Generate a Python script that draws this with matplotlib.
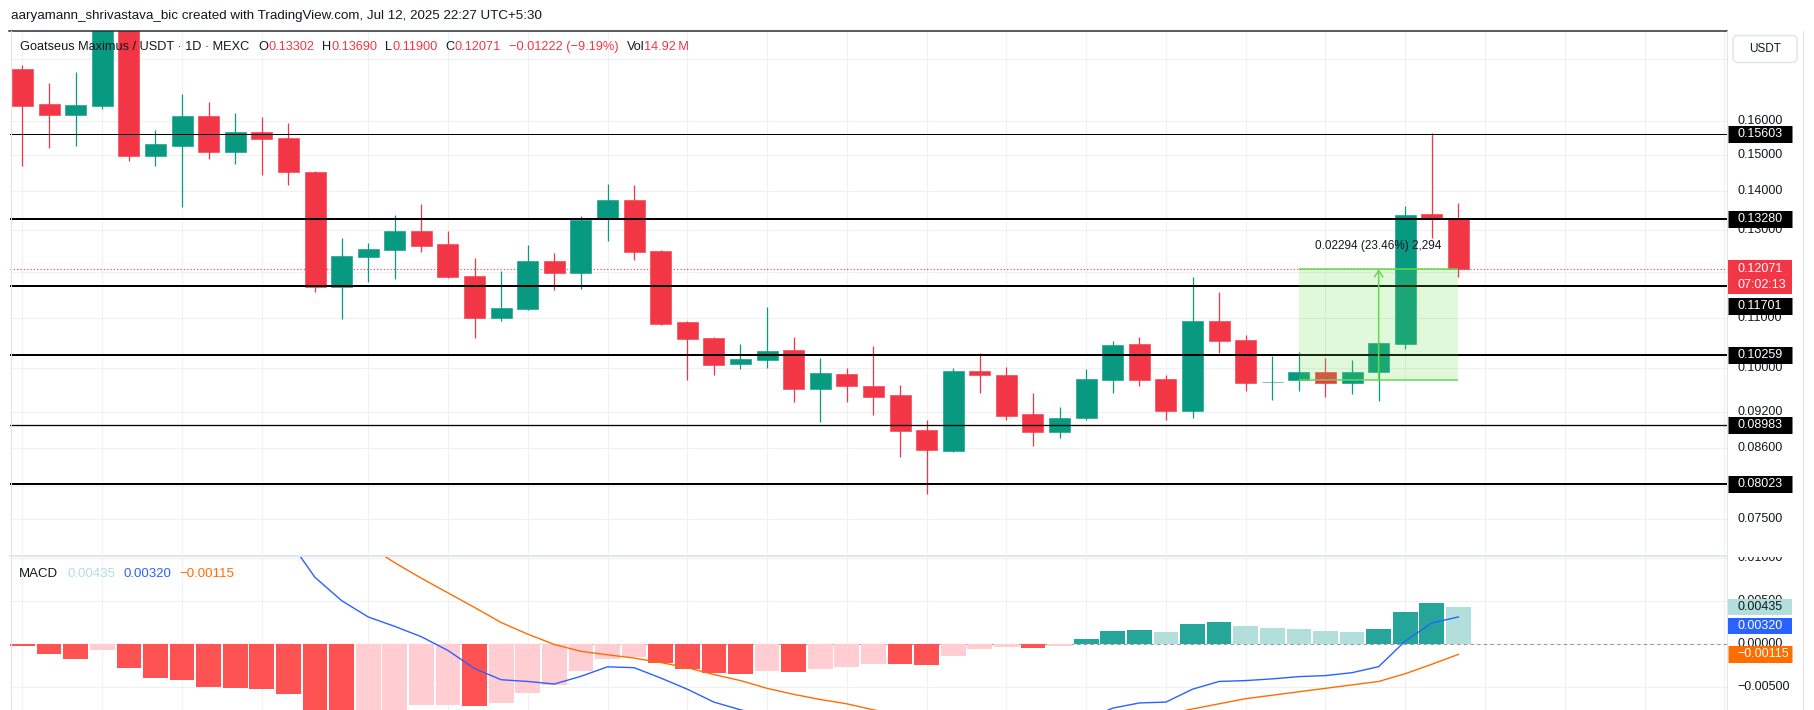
import numpy as np
import matplotlib
matplotlib.use('Agg')
import matplotlib.pyplot as plt
import matplotlib.transforms as mtransforms
from matplotlib.patches import Rectangle, FancyBboxPatch
from matplotlib.lines import Line2D
from matplotlib.ticker import NullLocator

plt.rcParams['font.family'] = ['Liberation Sans', 'DejaVu Sans']

# daily candles GOAT/USDT (MEXC)
opens = [0.1767, 0.1653, 0.1620, 0.1648, 0.2010, 0.1498, 0.1527, 0.1616, 0.1509, 0.1567,
         0.1549, 0.1452, 0.1166, 0.1236, 0.1253, 0.1298, 0.1267, 0.1192, 0.1101, 0.1120,
         0.1226, 0.1199, 0.1331, 0.1377, 0.1250, 0.1092, 0.1059, 0.1009, 0.1016, 0.1035,
         0.0962, 0.0989, 0.0967, 0.0950, 0.0890, 0.0855, 0.0995, 0.0987, 0.0917, 0.0885,
         0.0910, 0.0978, 0.1047, 0.0980, 0.0922, 0.1094, 0.1055, 0.0974, 0.0977, 0.0993,
         0.0973, 0.0992, 0.1048, 0.1341, 0.13302]
highs = [0.1780, 0.1721, 0.1757, 0.2080, 0.2050, 0.1573, 0.1686, 0.1659, 0.1625, 0.1612,
         0.1594, 0.1455, 0.1281, 0.1269, 0.1338, 0.1367, 0.1298, 0.1233, 0.1204, 0.1264,
         0.1244, 0.1335, 0.1420, 0.1417, 0.1252, 0.1093, 0.1061, 0.1048, 0.1124, 0.1062,
         0.1020, 0.1000, 0.1044, 0.0969, 0.0907, 0.1000, 0.1029, 0.1002, 0.0954, 0.0929,
         0.0999, 0.1054, 0.1062, 0.0987, 0.1190, 0.1157, 0.1066, 0.1024, 0.1031, 0.1020,
         0.1016, 0.1052, 0.1362, 0.1563, 0.13690]
lows = [0.1470, 0.1521, 0.1527, 0.1638, 0.1484, 0.1470, 0.1360, 0.1490, 0.1475, 0.1445,
        0.1418, 0.1157, 0.1099, 0.1179, 0.1184, 0.1248, 0.1187, 0.1060, 0.1095, 0.1117,
        0.1161, 0.1163, 0.1274, 0.1229, 0.1086, 0.0978, 0.0988, 0.0999, 0.1001, 0.0937,
        0.0903, 0.0937, 0.0915, 0.0845, 0.0788, 0.0852, 0.0954, 0.0907, 0.0863, 0.0876,
        0.0907, 0.0954, 0.0966, 0.0907, 0.0910, 0.1030, 0.0958, 0.0942, 0.0958, 0.0947,
        0.0953, 0.0940, 0.1038, 0.1282, 0.11900]
closes = [0.1648, 0.1620, 0.1650, 0.2010, 0.1498, 0.1532, 0.1616, 0.1509, 0.1567, 0.1547,
          0.1453, 0.1166, 0.1238, 0.1255, 0.1298, 0.1262, 0.1190, 0.1101, 0.1122, 0.1226,
          0.1199, 0.1326, 0.1377, 0.1248, 0.1088, 0.1058, 0.1007, 0.1018, 0.1033, 0.0962,
          0.0991, 0.0967, 0.0947, 0.0888, 0.0856, 0.0995, 0.0988, 0.0914, 0.0886, 0.0910,
          0.0980, 0.1045, 0.0978, 0.0922, 0.1094, 0.1054, 0.0973, 0.0975, 0.0993, 0.0973,
          0.0993, 0.1049, 0.1338, 0.13293, 0.12071]
volume_last = '14.92\u2009M'

# MACD (12, 26, 9)
hist = [-0.00021, -0.00107, -0.00165, -0.00060, -0.00270, -0.00386, -0.00410, -0.00490, -0.00502, -0.00514,
        -0.00572, -0.00820, -0.00880, -0.00840, -0.00790, -0.00707, -0.00703, -0.00710, -0.00677, -0.00560,
        -0.00467, -0.00305, -0.00165, -0.00142, -0.00220, -0.00280, -0.00328, -0.00340, -0.00310, -0.00320,
        -0.00285, -0.00258, -0.00223, -0.00230, -0.00236, -0.00130, -0.00049, -0.00035, -0.00040, -0.00014,
        0.00064, 0.00157, 0.00169, 0.00145, 0.00238, 0.00262, 0.00215, 0.00192, 0.00180, 0.00157,
        0.00145, 0.00180, 0.00378, 0.00483, 0.00435]
macd = [0.0252, 0.0243, 0.0234, 0.0241, 0.0219, 0.0200, 0.0188, 0.0170, 0.0156, 0.0142,
        0.0122, 0.0078, 0.0051, 0.0032, 0.0021, 0.0009, -0.0007, -0.0028, -0.0041, -0.0043,
        -0.0046, -0.0037, -0.0026, -0.0027, -0.0039, -0.0052, -0.0067, -0.0076, -0.0082, -0.0090,
        -0.0093, -0.0095, -0.0098, -0.0105, -0.0111, -0.0104, -0.0097, -0.0097, -0.0098, -0.0096,
        -0.0087, -0.0074, -0.0068, -0.0067, -0.0052, -0.0043, -0.0042, -0.0040, -0.00374, -0.00362,
        -0.00328, -0.00258, 0.0004, 0.0025, 0.00320]
signal = [0.0254, 0.0254, 0.0251, 0.0247, 0.0246, 0.0239, 0.0229, 0.0219, 0.0206, 0.0193,
          0.0179, 0.0158, 0.0136, 0.0115, 0.0095, 0.0077, 0.0060, 0.0043, 0.00255, 0.0012,
          0.0000, -0.0008, -0.0012, -0.00158, -0.0021, -0.0027, -0.0035, -0.0042, -0.0051, -0.0058,
          -0.0064, -0.0069, -0.0076, -0.0082, -0.0088, -0.0091, -0.0092, -0.0093, -0.0094, -0.00945,
          -0.0093, -0.0089, -0.0085, -0.0081, -0.0075, -0.0069, -0.0063, -0.0059, -0.0055, -0.0051,
          -0.0047, -0.0043, -0.0034, -0.0023, -0.00115]

# horizontal support / resistance lines drawn on the chart
levels = [0.15603, 0.13280, 0.11701, 0.10259, 0.08983, 0.08023]
level_px = [1.0, 2.0, 2.0, 2.0, 1.3, 2.0]

price_ticks = [0.18, 0.16, 0.15, 0.14, 0.13, 0.12, 0.11, 0.10, 0.092, 0.086, 0.080, 0.075]
macd_ticks = [0.01, 0.005, 0.0, -0.005]
date_grid = [0, 3, 6, 9, 13, 16, 19, 22, 25, 28, 31, 34, 37, 40, 43, 46, 49, 52, 55, 58, 61, 64]

# price range tool
range_from, range_to = 48, 54
range_low, range_high = 0.09777, 0.12071
countdown = '07:02:13'

header = 'aaryamann_shrivastava_bic created with TradingView.com, Jul 12, 2025 22:27 UTC+5:30'
symbol = 'Goatseus Maximus / USDT \u00b7 1D \u00b7 MEXC'

UP, DOWN, TEXT = '#089981', '#F23645', '#131722'
GRID, BORDER = '#eef0f3', '#e0e3eb'
BLUE, ORANGE = '#2962FF', '#FF6D00'
RANGE_C = '#66d94f'

W, H, DPI = 1814, 710, 100
fig = plt.figure(figsize=(W / DPI, H / DPI), dpi=DPI)
px = mtransforms.IdentityTransform()


def rect(l, t, r, b):
    return [l / W, 1 - b / H, (r - l) / W, (b - t) / H]


def fmt(v):
    return f'{v:.5f}'.replace('-', '\u2212')


ax = fig.add_axes(rect(10, 31, 1726.5, 554))
axm = fig.add_axes(rect(10, 557, 1726.5, 710))
aps = fig.add_axes(rect(1728, 31, 1814, 554))
ams = fig.add_axes(rect(1728, 557, 1814, 710))

x = np.arange(len(closes))
o, h, l, c = (np.array(v) for v in (opens, highs, lows, closes))
cols = [UP if cc >= oo else DOWN for oo, cc in zip(o, c)]
xlim = (-0.47, 64.08)

# ---- price pane
ax.set_yscale('log')
ax.set_xlim(*xlim)
ax.set_ylim(0.070236, 0.18991)
ax.vlines(x, l, h, colors=cols, lw=0.9, zorder=3)
ax.bar(x, np.abs(c - o), bottom=np.minimum(o, c), width=0.79, color=cols,
       edgecolor=cols, lw=0.4, zorder=3)
for p, w in zip(levels, level_px):
    ax.axhline(p, color='black', lw=w * 72 / DPI, zorder=4)
ax.axhline(c[-1], color=DOWN, lw=0.8, ls=(0, (1, 2)), zorder=1)

ax.add_patch(Rectangle((range_from, range_low), range_to - range_from, range_high - range_low,
                       facecolor='#64e146', alpha=0.2, lw=0, zorder=5))
ax.hlines([range_low, range_high], range_from, range_to, color=RANGE_C, lw=1.1, zorder=5)
mid = (range_from + range_to) / 2
ax.annotate('', xy=(mid, range_high), xytext=(mid, range_low), zorder=5,
            arrowprops=dict(arrowstyle='->,head_length=0.45,head_width=0.3', color=RANGE_C,
                            lw=1.1, shrinkA=0, shrinkB=0))
d = range_high - range_low
ax.annotate(f'{d:.5f} ({d / range_low * 100:.2f}%) {round(d / 1e-5):,}', xy=(mid, range_high),
            xytext=(0, 17), textcoords='offset points', ha='center', va='center',
            fontsize=8.5, color=TEXT, zorder=6)

ax.set_yticks(price_ticks)
ax.yaxis.set_minor_locator(NullLocator())
ax.set_xticks(date_grid)
ax.grid(True, color=GRID, lw=0.8)
ax.set_axisbelow(True)
ax.tick_params(length=0, labelleft=False, labelbottom=False)
for s in ax.spines.values():
    s.set_visible(False)

# ---- MACD pane
hcols = []
prev = 0.0
for v in hist:
    if v >= 0:
        hcols.append('#26A69A' if v >= prev else '#B2DFDB')
    else:
        hcols.append('#FFCDD2' if v > prev else '#FF5252')
    prev = v
axm.set_xlim(*xlim)
axm.set_ylim(-0.00762, 0.01017)
axm.axhline(0, color='#9598a1', lw=0.8, ls=(0, (3, 3)), zorder=1.5)
axm.bar(x, hist, width=0.93, color=hcols, zorder=2)
axm.plot(x, macd, color=BLUE, lw=1.0, zorder=3)
axm.plot(x, signal, color=ORANGE, lw=1.0, zorder=3)
axm.set_yticks(macd_ticks)
axm.set_xticks(date_grid)
axm.grid(True, color=GRID, lw=0.8)
axm.set_axisbelow(True)
axm.tick_params(length=0, labelleft=False, labelbottom=False)
for s in axm.spines.values():
    s.set_visible(False)

# ---- right price scales
aps.set_yscale('log')
aps.set_ylim(ax.get_ylim())
aps.set_xlim(0, 86)
aps.axis('off')
ams.set_ylim(axm.get_ylim())
ams.set_xlim(0, 86)
ams.axis('off')

for t in price_ticks:
    aps.text(9.5, t, fmt(t), va='center', fontsize=9, color=TEXT, clip_on=True)
for t in macd_ticks:
    ams.text(9.5, t, fmt(t), va='center', fontsize=9, color=TEXT, clip_on=True)


def tag(axis, y, lines, fc, tc, dy=0, hpx=17, box_dy=None):
    box_dy = dy if box_dy is None else box_dy
    tr = axis.transData + mtransforms.ScaledTranslation(0, box_dy / DPI, fig.dpi_scale_trans)
    axis.plot([0, 63.5], [y, y], transform=tr, color=fc, lw=hpx * 72 / DPI,
              solid_capstyle='butt', zorder=5, clip_on=False)
    for k, s in enumerate(lines):
        trt = axis.transData + mtransforms.ScaledTranslation(0, (dy - 16 * k) / DPI,
                                                             fig.dpi_scale_trans)
        axis.text(9.5, y, s, transform=trt, va='center', fontsize=9, color=tc, zorder=6)


for p in levels:
    tag(aps, p, [fmt(p)], 'black', 'white', dy=-20 if p == 0.11701 else 0)
tag(aps, c[-1], [fmt(c[-1]), countdown], DOWN, 'white', dy=0, hpx=34, box_dy=-8)
tag(ams, hist[-1], [fmt(hist[-1])], '#B2DFDB', TEXT, hpx=16)
tag(ams, macd[-1], [fmt(macd[-1])], BLUE, 'white', dy=-9.5, hpx=16)
tag(ams, signal[-1], [fmt(signal[-1])], ORANGE, 'white', hpx=17)

fig.add_artist(FancyBboxPatch((1733, H - 62.5), 64, 27, boxstyle='round,pad=0,rounding_size=5',
                              transform=px, fc='white', ec=BORDER, lw=1, zorder=10))
fig.text(1765, H - 49, 'USDT', transform=px, ha='center', va='center', fontsize=8.5,
         color=TEXT, zorder=11)

# frame lines
fig.add_artist(Line2D([9, 1726.5], [H - 30.5] * 2, transform=px, color='#2a2e39', lw=1.1, zorder=9))
fig.add_artist(Line2D([10.5, 10.5], [0, H - 31], transform=px, color=BORDER, lw=0.75, zorder=9))
fig.add_artist(Line2D([10, 1726.5], [H - 555.5] * 2, transform=px, color=BORDER, lw=1.3, zorder=9))
fig.add_artist(Line2D([1727, 1727], [0, H - 31], transform=px, color=BORDER, lw=0.75, zorder=9))
fig.add_artist(Line2D([1802.5, 1802.5], [0, H - 31], transform=px, color=BORDER, lw=0.75, zorder=9))

# texts
fig.text(11, H - 16, header, transform=px, fontsize=9.6, color=TEXT, va='center')


def chain(x0, y, parts, size):
    r = fig.canvas.get_renderer()
    xx = x0
    for s, col, gap in parts:
        t = fig.text(xx + gap, H - y, s, transform=px, fontsize=size, color=col,
                     va='center', ha='left', zorder=12)
        xx = t.get_window_extent(r).x1


chg = c[-1] - c[-2]
chain(20, 47, [(symbol, TEXT, 0),
               ('O', TEXT, 9), (f'{o[-1]:.5f}', DOWN, 0),
               ('H', TEXT, 8), (f'{h[-1]:.5f}', DOWN, 0),
               ('L', TEXT, 8), (f'{l[-1]:.5f}', DOWN, 0),
               ('C', TEXT, 8), (f'{c[-1]:.5f}', DOWN, 0),
               (f'{fmt(chg)} ({chg / c[-2] * 100:.2f}%)'.replace('-', '\u2212'), DOWN, 8),
               ('Vol', TEXT, 8), (volume_last, DOWN, 0)], 9.2)
chain(19, 574, [('MACD', TEXT, 0),
                (fmt(hist[-1]), '#B2DFDB', 9),
                (fmt(macd[-1]), BLUE, 8),
                (fmt(signal[-1]), ORANGE, 8)], 9.5)

fig.savefig('out.png', dpi=DPI, facecolor='white')
